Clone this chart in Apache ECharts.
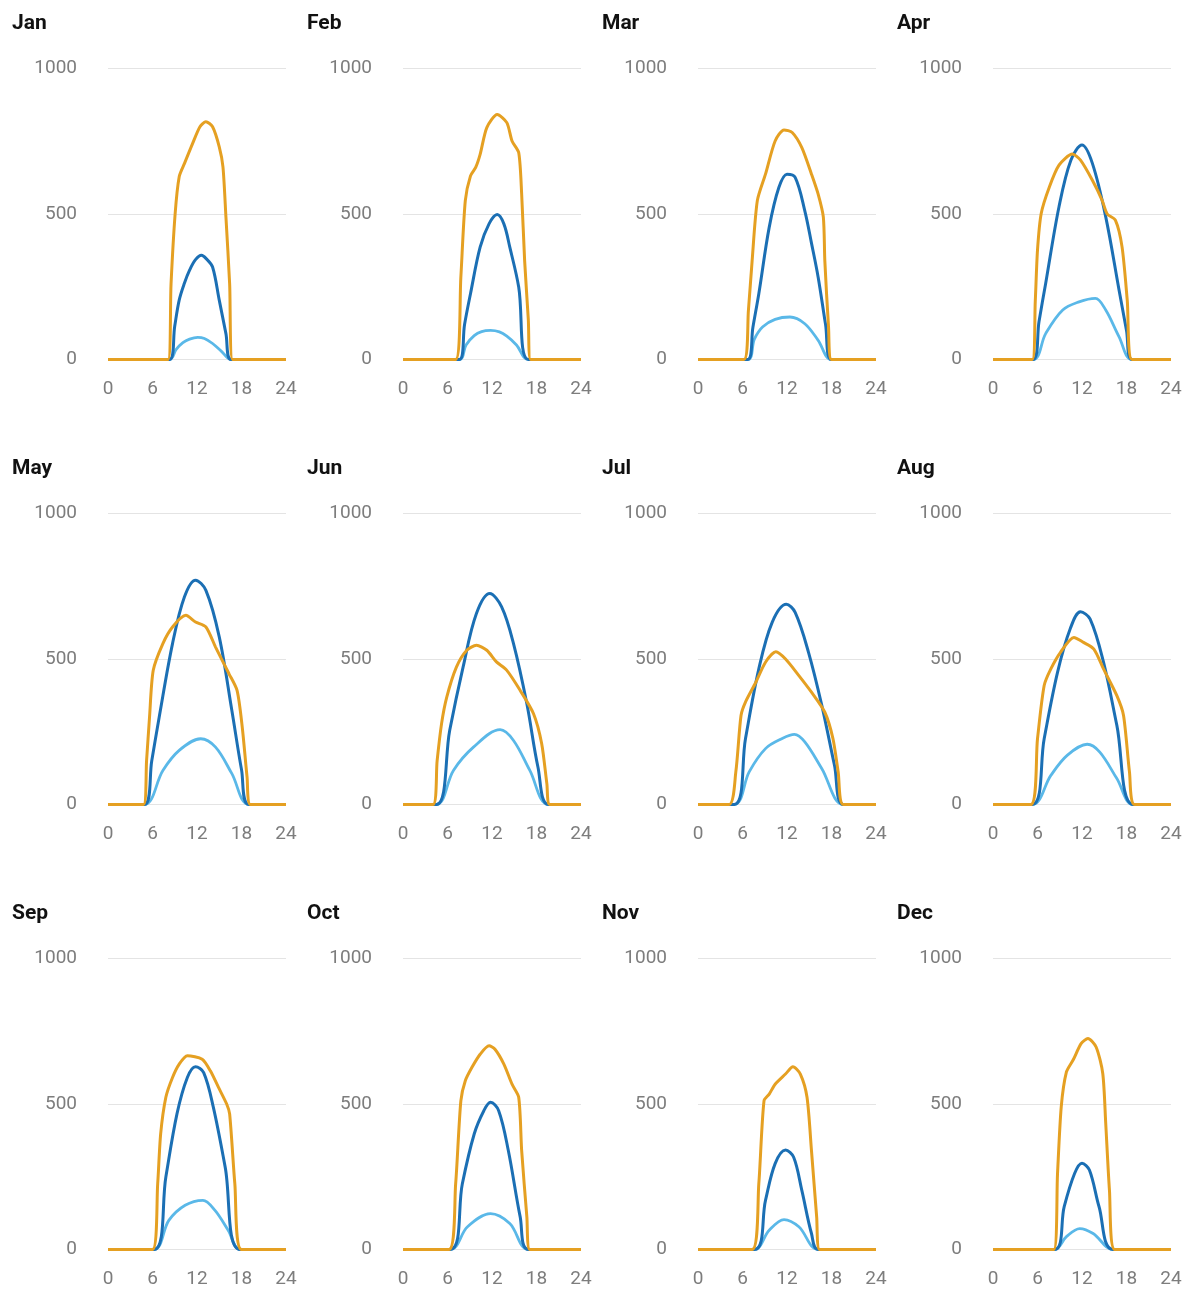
<!DOCTYPE html>
<html>
<head>
<meta charset="utf-8">
<script src="https://cdn.jsdelivr.net/npm/echarts@6/dist/echarts.min.js"></script>
<style>
html,body{margin:0;padding:0;background:#fff;}
#c{width:1193px;height:1289px;}
</style>
</head>
<body>
<div id="c"></div>
<script>
const months = ['Jan','Feb','Mar','Apr','May','Jun','Jul','Aug','Sep','Oct','Nov','Dec'];
const xTicks = [0, 6, 12, 18, 24];
const yTicks = [0, 500, 1000];

// [hour, value] points
const janOrange = [[0,0],[8.1,0],[8.5,260],[9.05,500],[9.6,628],[10.3,673],[11.4,742],[12.4,800],[13.2,817],[14.1,800],[15.0,731],[15.5,662],[15.9,490],[16.4,261],[16.8,0],[24,0]];
const janDark   = [[0,0],[8.3,0],[9.0,115],[9.6,204],[10.3,262],[11.0,307],[11.8,343],[12.6,358],[13.3,345],[14.1,318],[15.0,204],[15.9,89],[16.6,0],[24,0]];
const janLight  = [[0,0],[8.3,0],[9.2,35],[10.1,58],[11.0,70],[12.1,76],[13.0,72],[14.1,55],[15.3,28],[16.6,0],[24,0]];

const febOrange = [[0,0],[7.1,0],[7.8,283],[8.4,546],[9.1,631],[9.8,660],[10.4,705],[11.3,797],[12.7,842],[14.0,814],[14.7,751],[15.6,711],[16.0,568],[16.4,340],[16.9,135],[17.2,0],[24,0]];
const febDark   = [[0,0],[7.6,0],[8.3,120],[9.1,226],[10.4,386],[11.6,466],[12.7,498],[13.6,466],[14.4,386],[15.6,249],[16.9,0],[24,0]];
const febLight  = [[0,0],[7.6,0],[8.5,50],[9.6,82],[10.6,96],[11.8,100],[13.0,95],[14.0,80],[15.3,50],[16.9,0],[24,0]];

const marOrange = [[0,0],[6.2,0],[6.8,170],[7.3,340],[8.0,546],[9.1,637],[10.4,751],[11.6,789],[12.7,780],[14.0,728],[15.3,637],[16.2,568],[16.9,489],[17.1,340],[17.6,112],[18.0,0],[24,0]];
const marDark   = [[0,0],[6.7,0],[7.4,110],[8.2,226],[9.6,454],[10.9,591],[12.0,637],[13.1,626],[14.4,511],[15.3,400],[16.2,283],[17.2,120],[18.0,0],[24,0]];
const marLight  = [[0,0],[6.7,0],[7.6,70],[8.7,112],[10.4,138],[12.4,146],[14.4,123],[16.2,66],[18.0,0],[24,0]];

const aprOrange = [[0,0],[5.3,0],[5.7,200],[6.0,376],[6.5,502],[7.6,593],[8.9,668],[10.7,706],[11.8,685],[13.4,616],[14.7,548],[15.4,500],[16.5,479],[17.4,387],[18.1,204],[18.75,0],[24,0]];
const aprDark   = [[0,0],[5.4,0],[6.2,130],[7.1,261],[8.9,525],[10.5,685],[12.0,737],[13.4,674],[15.2,490],[17.0,238],[18.0,100],[18.75,0],[24,0]];
const aprLight  = [[0,0],[5.4,0],[7.1,89],[9.4,170],[11.6,198],[13.8,210],[15.2,170],[17.0,78],[18.75,0],[24,0]];

const mayOrange = [[0,0],[4.8,0],[5.2,150],[5.6,300],[6.1,461],[7.4,553],[8.7,610],[10.5,650],[11.8,627],[13.2,610],[14.5,541],[16.3,450],[17.4,392],[18.1,266],[18.75,94],[19.2,0],[24,0]];
const mayDark   = [[0,0],[4.9,0],[5.9,150],[6.9,300],[8.7,553],[10.3,713],[11.8,771],[13.2,736],[15.0,576],[16.7,323],[18.0,120],[19.0,0],[24,0]];
const mayLight  = [[0,0],[4.9,0],[7.4,117],[9.6,186],[12.5,226],[14.5,197],[16.7,106],[19.0,0],[24,0]];

const junOrange = [[0,0],[4.05,0],[4.6,150],[5.2,278],[5.9,369],[7.2,472],[8.6,530],[9.9,547],[11.3,530],[12.6,490],[14.0,461],[15.8,392],[17.6,312],[18.7,209],[19.4,71],[19.8,0],[24,0]];
const junDark   = [[0,0],[4.5,0],[6.3,255],[8.1,472],[9.9,656],[11.7,725],[13.3,679],[14.9,553],[16.7,346],[18.2,128],[19.6,0],[24,0]];
const junLight  = [[0,0],[4.5,0],[6.8,117],[9.5,197],[13.1,257],[14.9,220],[17.1,117],[19.6,0],[24,0]];

const julOrange = [[0,0],[4.2,0],[5.1,112],[5.8,306],[6.4,352],[7.8,420],[9.1,489],[10.5,525],[11.8,500],[13.6,443],[15.3,386],[17.1,317],[18.2,226],[18.9,112],[19.6,0],[24,0]];
const julDark   = [[0,0],[4.9,0],[6.4,226],[8.2,466],[10.0,626],[11.9,688],[13.1,660],[14.9,523],[16.7,340],[18.4,135],[19.6,0],[24,0]];
const julLight  = [[0,0],[4.9,0],[6.9,112],[9.1,192],[11.3,226],[13.0,241],[14.4,215],[16.7,123],[19.6,0],[24,0]];

const augOrange = [[0,0],[5.1,0],[6.0,226],[6.9,409],[7.8,466],[9.1,523],[10.9,574],[12.2,557],[13.6,534],[14.9,466],[16.7,374],[17.6,306],[18.4,112],[19.1,0],[24,0]];
const augDark   = [[0,0],[5.3,0],[6.9,226],[8.7,454],[10.4,603],[11.8,662],[13.1,637],[14.9,489],[16.7,272],[18.9,0],[24,0]];
const augLight  = [[0,0],[5.3,0],[7.8,100],[10.0,169],[12.7,207],[14.4,180],[16.7,89],[18.9,0],[24,0]];

const sepOrange = [[0,0],[6.0,0],[6.7,226],[7.1,397],[7.8,523],[8.7,591],[9.6,637],[10.7,666],[12.7,654],[13.8,614],[14.9,557],[16.0,500],[16.4,466],[17.1,226],[18.0,0],[24,0]];
const sepDark   = [[0,0],[6.2,0],[7.8,249],[9.3,466],[10.7,591],[11.8,628],[12.9,608],[14.2,489],[15.8,283],[17.8,0],[24,0]];
const sepLight  = [[0,0],[6.2,0],[8.2,100],[10.4,152],[12.8,169],[14.4,135],[16.2,66],[17.8,0],[24,0]];

const octOrange = [[0,0],[6.2,0],[7.1,226],[7.8,511],[8.4,580],[9.3,626],[10.4,671],[11.6,700],[12.4,688],[13.6,637],[14.7,568],[15.6,523],[16.0,340],[16.7,112],[17.1,0],[24,0]];
const octDark   = [[0,0],[6.4,0],[8.0,226],[9.6,397],[10.9,477],[11.8,506],[12.9,477],[14.2,340],[15.8,112],[16.9,0],[24,0]];
const octLight  = [[0,0],[6.4,0],[8.7,78],[11.8,123],[14.4,89],[16.9,0],[24,0]];

const novOrange = [[0,0],[7.3,0],[8.2,226],[8.9,511],[9.6,534],[10.4,568],[11.8,603],[12.8,628],[13.8,603],[14.7,523],[15.3,340],[16.0,112],[16.4,0],[24,0]];
const novDark   = [[0,0],[7.6,0],[9.1,169],[10.4,295],[11.8,342],[12.9,317],[14.0,203],[15.3,55],[16.2,0],[24,0]];
const novLight  = [[0,0],[7.6,0],[9.6,66],[11.6,103],[13.6,78],[16.2,0],[24,0]];

const decOrange = [[0,0],[8.2,0],[8.7,261],[9.2,490],[9.9,610],[10.8,651],[11.9,708],[12.8,725],[13.9,696],[14.8,605],[15.2,433],[15.7,204],[16.4,0],[24,0]];
const decDark   = [[0,0],[8.3,0],[9.6,147],[11.0,261],[12.0,296],[13.0,273],[14.3,147],[16.2,0],[24,0]];
const decLight  = [[0,0],[8.3,0],[9.9,44],[11.7,72],[13.5,55],[16.2,0],[24,0]];

const orangeSets = [janOrange,febOrange,marOrange,aprOrange,mayOrange,junOrange,julOrange,augOrange,sepOrange,octOrange,novOrange,decOrange];
const darkSets   = [janDark,febDark,marDark,aprDark,mayDark,junDark,julDark,augDark,sepDark,octDark,novDark,decDark];
const lightSets  = [janLight,febLight,marLight,aprLight,mayLight,junLight,julLight,augLight,sepLight,octLight,novLight,decLight];

// Repeat sunrise/sunset points so the smoothed curve keeps a sharp corner
// where it leaves / returns to the flat night-time baseline.
function withCorners(arr) {
  const out = [];
  arr.forEach((p, k) => {
    out.push(p);
    const prev = arr[k - 1], next = arr[k + 1];
    if (p[1] === 0 && prev && next && (prev[1] !== 0 || next[1] !== 0)) out.push(p);
  });
  return out;
}

const C_ORANGE = '#E5A022', C_DARK = '#1B6FB4', C_LIGHT = '#5AB8E8';
const colStep = 295, rowStep = 445;
const gLeft = 108, gTop = 68.5, gW = 178, gH = 291;
const labelFont = {fontFamily: 'Roboto', fontSize: 19, color: '#7d7d7d'};

const grids = [], xAxes = [], yAxes = [], titles = [], series = [];
months.forEach((m, i) => {
  const c = i % 4, r = Math.floor(i / 4);
  grids.push({left: gLeft + c*colStep, top: gTop + r*rowStep, width: gW, height: gH, containLabel: false});
  titles.push({text: m, left: 12 + c*colStep, top: 13 + r*rowStep, padding: 0,
    textStyle: {fontFamily: 'Roboto', fontWeight: 'bold', fontSize: 21, color: '#111'}});
  xAxes.push({type: 'value', gridIndex: i, min: xTicks[0], max: xTicks[xTicks.length-1], interval: 6,
    axisLine: {show: false}, axisTick: {show: false}, splitLine: {show: false},
    axisLabel: Object.assign({margin: 20, formatter: v => String(v)}, labelFont)});
  yAxes.push({type: 'value', gridIndex: i, min: yTicks[0], max: yTicks[yTicks.length-1], interval: 500,
    axisLine: {show: false}, axisTick: {show: false},
    splitLine: {lineStyle: {color: '#e4e4e4', width: 1}},
    axisLabel: Object.assign({margin: 31, formatter: v => String(v)}, labelFont)});
  const base = {type: 'line', xAxisIndex: i, yAxisIndex: i, showSymbol: false, symbol: 'none',
    animation: false, silent: true};
  series.push(Object.assign({}, base, {name: 'light', data: withCorners(lightSets[i]), smooth: 0.35,
    lineStyle: {color: C_LIGHT, width: 2.8}, itemStyle: {color: C_LIGHT}}));
  series.push(Object.assign({}, base, {name: 'dark', data: withCorners(darkSets[i]), smooth: 0.35,
    lineStyle: {color: C_DARK, width: 3}, itemStyle: {color: C_DARK}}));
  series.push(Object.assign({}, base, {name: 'orange', data: withCorners(orangeSets[i]), smooth: 0.25,
    lineStyle: {color: C_ORANGE, width: 3}, itemStyle: {color: C_ORANGE}}));
});

const chart = echarts.init(document.getElementById('c'), null, {renderer: 'canvas'});
chart.setOption({
  backgroundColor: '#fff',
  animation: false,
  title: titles,
  grid: grids,
  xAxis: xAxes,
  yAxis: yAxes,
  series: series
});
</script>
</body>
</html>
